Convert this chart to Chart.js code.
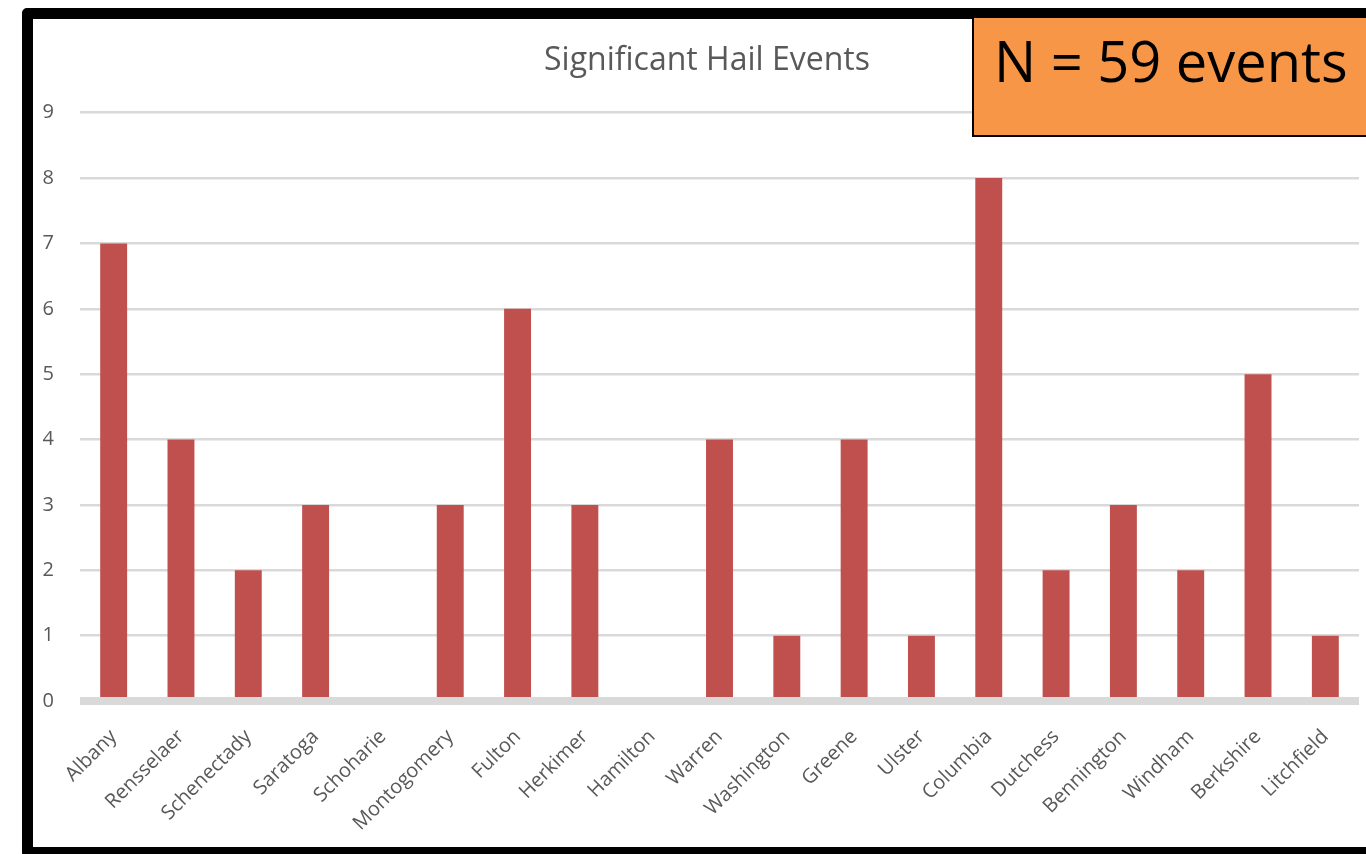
<!DOCTYPE html>
<html>
<head>
<meta charset="utf-8">
<title>Significant Hail Events</title>
<script src="https://cdn.jsdelivr.net/npm/chart.js@4.4.1/dist/chart.umd.min.js"></script>
<style>
  html, body { margin: 0; padding: 0; background: #ffffff; overflow: hidden; width: 1366px; height: 854px; }
  #frame {
    position: absolute; left: 22px; top: 8px; width: 1420px; height: 850px;
    box-sizing: border-box; border: 11px solid #000; border-radius: 5px; background: #fff;
  }
  #wrap { position: absolute; left: 33px; top: 19px; width: 1348px; height: 828px; }
  #badge {
    position: absolute; left: 972px; top: 16px; width: 430px; height: 121px;
    box-sizing: border-box; border: 2.5px solid #000; background: #F79646;
  }
  #badge span {
    position: absolute; left: 20px; top: 14px;
    font-family: "Open Sans", sans-serif; font-size: 56px; line-height: 56px; color: #000; white-space: nowrap;
  }
</style>
</head>
<body>
<div id="frame"></div>
<div id="wrap"><canvas id="chart" width="1348" height="828"></canvas></div>
<div id="badge"><span>N = 59 events</span></div>
<script>
// Counties and number of significant hail events in each
const counties = [
  "Albany", "Rensselaer", "Schenectady", "Saratoga", "Schoharie", "Montogomery",
  "Fulton", "Herkimer", "Hamilton", "Warren", "Washington", "Greene", "Ulster",
  "Columbia", "Dutchess", "Bennington", "Windham", "Berkshire", "Litchfield"
];
const hailEvents = [7, 4, 2, 3, 0, 3, 6, 3, 0, 4, 1, 4, 1, 8, 2, 3, 2, 5, 1];
const yTicks = [0, 1, 2, 3, 4, 5, 6, 7, 8, 9];

const tickColor = "#595959";
const gridColor = "#D9D9D9";
const tickFont = { family: "'Open Sans', sans-serif", size: 20 };

// Thick baseline at zero, drawn over the bar feet across the plot width
const zeroLine = {
  id: "zeroLine",
  afterDatasetsDraw(chart) {
    const { ctx, chartArea, scales } = chart;
    const y = scales.y.getPixelForValue(0);
    ctx.save();
    ctx.strokeStyle = gridColor;
    ctx.lineWidth = 8;
    ctx.beginPath();
    ctx.moveTo(chartArea.left, y);
    ctx.lineTo(chartArea.right, y);
    ctx.stroke();
    ctx.restore();
  }
};

new Chart(document.getElementById("chart"), {
  type: "bar",
  data: {
    labels: counties,
    datasets: [{
      label: "Significant Hail Events",
      data: hailEvents,
      backgroundColor: "#C0504D",
      borderWidth: 0,
      categoryPercentage: 1.0,
      barPercentage: 0.4
    }]
  },
  plugins: [zeroLine],
  options: {
    responsive: false,
    devicePixelRatio: 1,
    animation: false,
    layout: { padding: 0 },
    plugins: {
      legend: { display: false },
      tooltip: { enabled: false },
      title: {
        display: true,
        text: "Significant Hail Events",
        color: tickColor,
        font: { family: "'Open Sans', sans-serif", size: 32, weight: "normal", lineHeight: 1.2 },
        padding: { top: 22.6, bottom: 32.7 }
      }
    },
    scales: {
      x: {
        grid: { display: false },
        border: { display: false },
        ticks: {
          color: tickColor,
          font: tickFont,
          minRotation: 45,
          maxRotation: 45,
          autoSkip: false,
          padding: 16
        },
        afterFit: (scale) => { scale.height = 146; }
      },
      y: {
        min: yTicks[0],
        max: yTicks[yTicks.length - 1],
        afterBuildTicks: (scale) => { scale.ticks = yTicks.map(v => ({ value: v })); },
        grid: {
          color: gridColor,
          lineWidth: (ctx) => (ctx.tick && ctx.tick.value === 0 ? 0 : 2.5),
          drawTicks: false
        },
        border: { display: false },
        ticks: { color: tickColor, font: tickFont, padding: 26 },
        afterFit: (scale) => { scale.width = 47; }
      },
      // empty right-hand gutter so the title centres over the whole panel
      gutter: {
        type: "linear",
        position: "right",
        grid: { display: false },
        border: { display: false },
        ticks: { display: false },
        afterFit: (scale) => { scale.width = 22; }
      }
    }
  }
});
</script>
</body>
</html>
